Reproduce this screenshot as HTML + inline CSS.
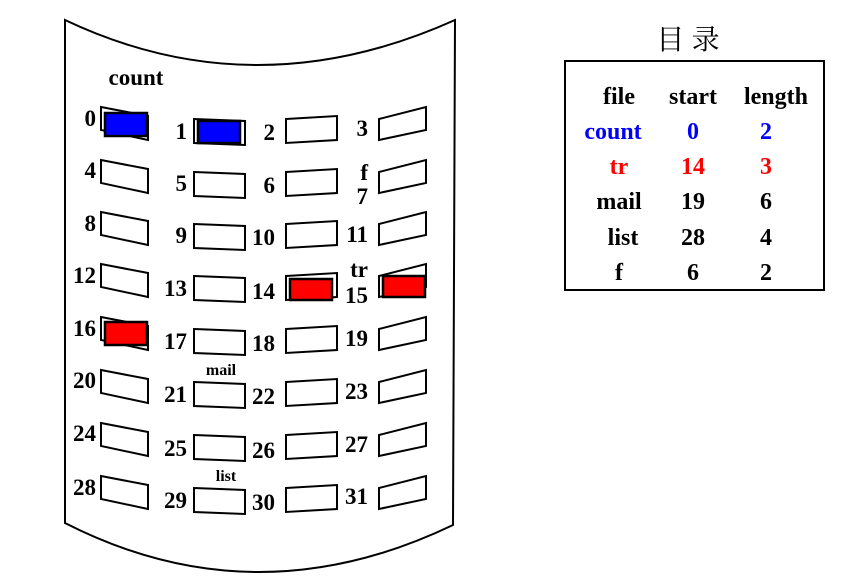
<!DOCTYPE html>
<html><head><meta charset="utf-8"><style>
html,body{margin:0;padding:0;background:#fff;width:864px;height:587px;overflow:hidden}
text{font-family:"Liberation Serif","Noto Serif CJK SC",serif;font-weight:bold}
</style></head><body>
<svg width="864" height="587" viewBox="0 0 864 587" xmlns="http://www.w3.org/2000/svg">
<defs>
<polygon id="c0" points="0,0 47,9 47,33 0,23" fill="#fff" stroke="#000" stroke-width="2"/>
<polygon id="c1" points="0,0 51,2 51,26 0,24" fill="#fff" stroke="#000" stroke-width="2"/>
<polygon id="c2" points="0,3 51,0 51,24 0,27" fill="#fff" stroke="#000" stroke-width="2"/>
<polygon id="c3" points="0,12 47,0 47,23 0,33" fill="#fff" stroke="#000" stroke-width="2"/>
</defs>
<path d="M65,20 Q255,110 455,20 L453,525 Q255,620 65,523 Z" fill="#fff" stroke="#000" stroke-width="2"/>
<g>
<use href="#c0" x="101" y="107"/><use href="#c1" x="194" y="119"/><use href="#c2" x="286" y="116"/><use href="#c3" x="379" y="107"/>
<use href="#c0" x="101" y="160"/><use href="#c1" x="194" y="172"/><use href="#c2" x="286" y="169"/><use href="#c3" x="379" y="160"/>
<use href="#c0" x="101" y="212"/><use href="#c1" x="194" y="224"/><use href="#c2" x="286" y="221"/><use href="#c3" x="379" y="212"/>
<use href="#c0" x="101" y="264"/><use href="#c1" x="194" y="276"/><use href="#c2" x="286" y="273"/><use href="#c3" x="379" y="264"/>
<use href="#c0" x="101" y="317"/><use href="#c1" x="194" y="329"/><use href="#c2" x="286" y="326"/><use href="#c3" x="379" y="317"/>
<use href="#c0" x="101" y="370"/><use href="#c1" x="194" y="382"/><use href="#c2" x="286" y="379"/><use href="#c3" x="379" y="370"/>
<use href="#c0" x="101" y="423"/><use href="#c1" x="194" y="435"/><use href="#c2" x="286" y="432"/><use href="#c3" x="379" y="423"/>
<use href="#c0" x="101" y="476"/><use href="#c1" x="194" y="488"/><use href="#c2" x="286" y="485"/><use href="#c3" x="379" y="476"/>
</g>
<g stroke="#000" stroke-width="2.5">
<rect x="105" y="113" width="42" height="23" fill="#0000ff"/>
<rect x="198" y="121" width="42" height="22" fill="#0000ff"/>
<rect x="290" y="279" width="42" height="21" fill="#ff0000"/>
<rect x="383" y="276" width="42" height="21" fill="#ff0000"/>
<rect x="105" y="322" width="42" height="23" fill="#ff0000"/>
</g>
<g font-size="23" fill="#000">
<text x="136" y="85" font-size="23" text-anchor="middle">count</text>
<g text-anchor="end">
<text x="96" y="126">0</text><text x="187" y="139">1</text><text x="275" y="140">2</text><text x="368" y="136">3</text>
<text x="96" y="178">4</text><text x="187" y="191">5</text><text x="275" y="193">6</text><text x="368" y="180">f</text><text x="368" y="204">7</text>
<text x="96" y="231">8</text><text x="187" y="243">9</text><text x="275" y="245">10</text><text x="368" y="242">11</text>
<text x="96" y="283">12</text><text x="187" y="296">13</text><text x="275" y="299">14</text><text x="368" y="277">tr</text><text x="368" y="303">15</text>
<text x="96" y="336">16</text><text x="187" y="349">17</text><text x="275" y="351">18</text><text x="368" y="346">19</text>
<text x="96" y="388">20</text><text x="187" y="402">21</text><text x="275" y="404">22</text><text x="368" y="399">23</text>
<text x="96" y="441">24</text><text x="187" y="456">25</text><text x="275" y="458">26</text><text x="368" y="452">27</text>
<text x="96" y="495">28</text><text x="187" y="508">29</text><text x="275" y="510">30</text><text x="368" y="504">31</text>
</g>
<text x="221" y="375" font-size="16" text-anchor="middle">mail</text>
<text x="226" y="481" font-size="16" text-anchor="middle">list</text>
</g>
<text x="688" y="49" font-size="28" text-anchor="middle" style="font-family:'Noto Serif CJK SC','Noto Sans CJK SC',serif;font-weight:normal">目 录</text>
<rect x="565" y="61" width="259" height="229" fill="#fff" stroke="#000" stroke-width="2"/>
<g font-size="24" text-anchor="middle">
<text x="619" y="104">file</text><text x="693" y="104">start</text><text x="776" y="104">length</text>
<text x="613" y="139" fill="#0000ff">count</text><text x="693" y="139" fill="#0000ff">0</text><text x="766" y="139" fill="#0000ff">2</text>
<text x="619" y="174" fill="#ff0000">tr</text><text x="693" y="174" fill="#ff0000">14</text><text x="766" y="174" fill="#ff0000">3</text>
<text x="619" y="209">mail</text><text x="693" y="209">19</text><text x="766" y="209">6</text>
<text x="623" y="245">list</text><text x="693" y="245">28</text><text x="766" y="245">4</text>
<text x="619" y="280">f</text><text x="693" y="280">6</text><text x="766" y="280">2</text>
</g>
</svg>
</body></html>
